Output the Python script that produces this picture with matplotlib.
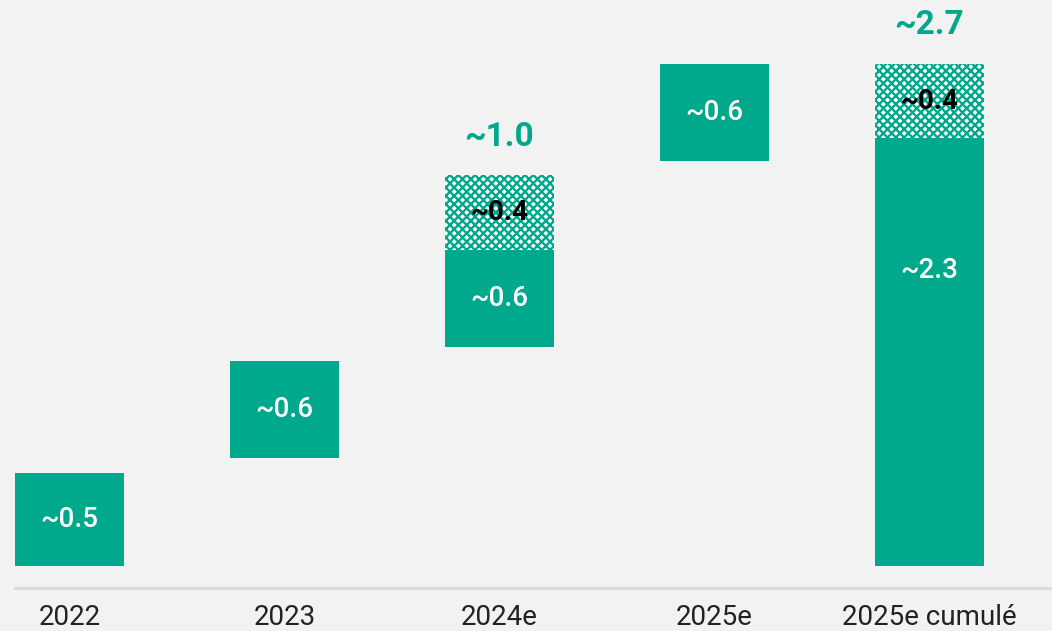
import matplotlib
matplotlib.use('Agg')
import matplotlib.pyplot as plt
import numpy as np

# Data
categories = ['2022', '2023', '2024e', '2025e', '2025e cumulé']
solid_vals = [0.5, 0.6, 0.6, 0.6, 2.3]
hatch_vals = [0.0, 0.0, 0.4, 0.0, 0.4]
solid_labels = ['~0.5', '~0.6', '~0.6', '~0.6', '~2.3']
hatch_labels = ['', '', '~0.4', '', '~0.4']
total_labels = ['', '', '~1.0', '', '~2.7']

GREEN = '#00a88c'
BG = '#f2f2f2'
GAP = 0.08   # visual gap under floating bars
LABEL_POS = [0.5, 0.5, 0.5, 0.5, 0.69]   # label height within solid bar
FONT = ['Roboto', 'DejaVu Sans']

plt.rcParams['hatch.linewidth'] = 1.7
plt.rcParams['hatch.color'] = GREEN

fig = plt.figure(figsize=(10.52, 6.31), dpi=100)
fig.patch.set_facecolor(BG)
ax = fig.add_axes([0, 0, 1, 1])
ax.set_facecolor(BG)
ax.axis('off')

x = np.arange(len(categories))
solid = np.array(solid_vals)
hatch = np.array(hatch_vals)

# waterfall starts: running total, last bar is cumulative from zero
starts = np.concatenate([[0], np.cumsum(solid + hatch)[:-1]])
starts[-1] = 0
gaps = np.where(starts > 0, GAP, 0)

W = 0.507
ax.bar(x, solid - gaps, bottom=starts + gaps, width=W, color=GREEN,
       edgecolor='none', zorder=2)
hb = hatch > 0
ax.bar(x[hb], hatch[hb], bottom=(starts + solid)[hb], width=W,
       facecolor='white', edgecolor=GREEN, hatch='xxxx', linewidth=0,
       zorder=2)

for i in range(len(x)):
    ax.text(x[i], starts[i] + gaps[i] + (solid[i] - gaps[i]) * LABEL_POS[i],
            solid_labels[i], ha='center', va='center', color='white',
            fontsize=20, fontweight='medium', family=FONT, zorder=3)
    if hatch_labels[i]:
        ax.text(x[i], starts[i] + solid[i] + hatch[i] / 2, hatch_labels[i],
                ha='center', va='center', color='black', fontsize=20,
                fontweight='bold', family=FONT, zorder=3)
    if total_labels[i]:
        ax.text(x[i], starts[i] + solid[i] + hatch[i] + 0.12,
                total_labels[i], ha='center', va='bottom', color=GREEN,
                fontsize=24, fontweight='bold', family=FONT, zorder=3)
    ax.text(x[i], -0.275, categories[i], ha='center', va='center',
            color='#222222', fontsize=20, family=FONT)

# axis line
ax.axhline(-0.118, xmin=15 / 1052, xmax=1, color='#d9d9d9', lw=2, zorder=1)

ax.set_xlim(-0.323, 4.570)
ax.set_ylim(-0.349, 3.043)

plt.savefig('out.png', dpi=100, facecolor=BG)
plt.close()
